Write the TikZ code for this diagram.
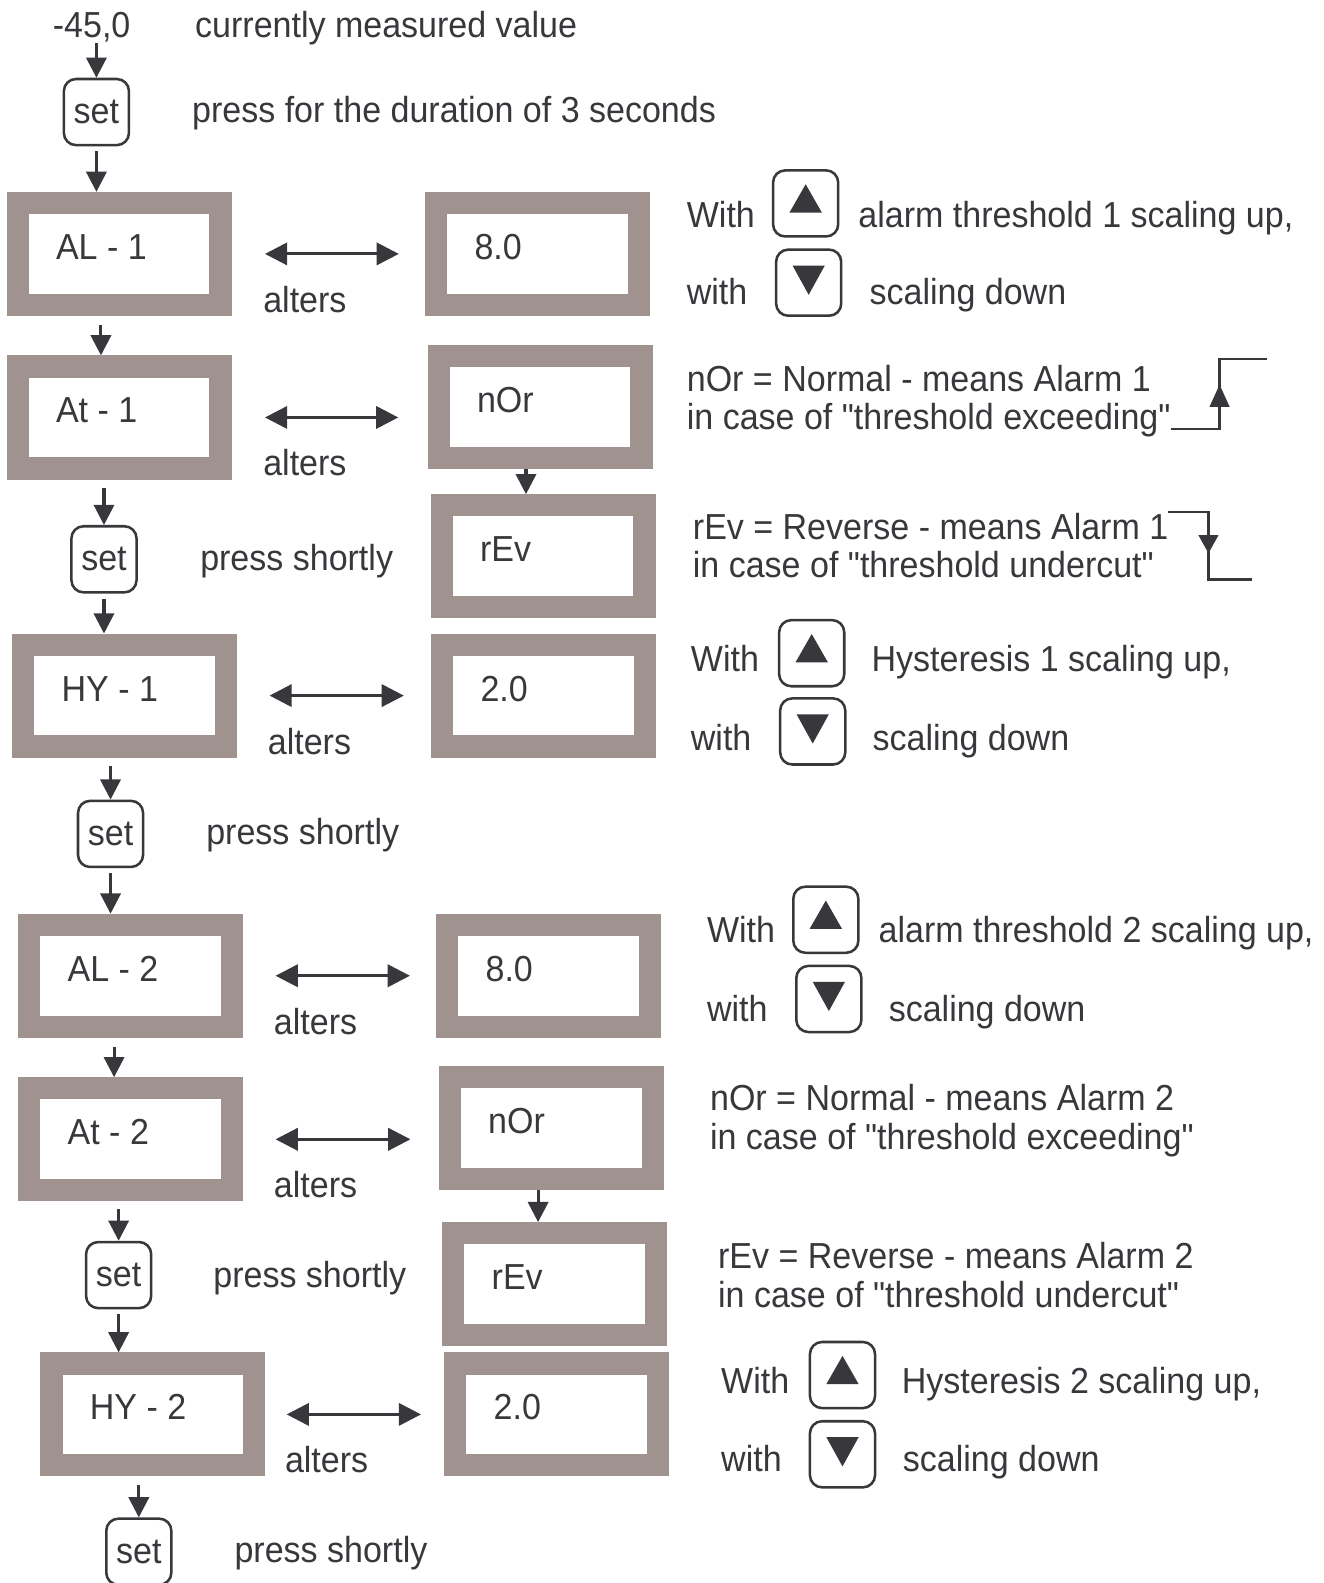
\documentclass[tikz,border=0pt]{standalone}
\usepackage{fontspec}
\setmainfont{Liberation Sans}[FakeStretch=0.94, Ligatures=TeXOff]
\usetikzlibrary{positioning,arrows.meta,calc}
\definecolor{dispgray}{RGB}{160,146,142}
\definecolor{inkgray}{RGB}{56,56,60}

\begin{document}
\begin{tikzpicture}[x=0.02cm, y=-0.02cm,
  every node/.style={font=\fontsize{20.4pt}{24pt}\selectfont, text=inkgray},
  disp/.style={draw=dispgray, line width=0.44cm, fill=white,
    minimum width=4.02cm, minimum height=2.02cm, text width=2.5cm,
    align=flush left, inner xsep=0.76cm, text height=0.516cm, text depth=0.3cm},
  btn/.style={draw=inkgray, line width=0.05cm, rounded corners=0.24cm,
    minimum width=1.29cm, minimum height=1.31cm, inner sep=0pt},
  txt/.style={anchor=west, inner sep=0pt, text height=0.516cm, text depth=0pt},
  arr/.style={-{Triangle[length=0.4cm,width=0.4cm]}, line width=0.06cm, draw=inkgray},
  dbl/.style={{Triangle[length=0.44cm,width=0.44cm]}-{Triangle[length=0.44cm,width=0.44cm]},
    line width=0.06cm, draw=inkgray},
  sym/.style={line width=0.05cm, draw=inkgray}
]
\path[use as bounding box, fill=white] (0,0) rectangle (1311,1568);

\node[txt] (reading) at (52,24) {-45,0};
\node[txt] (readtxt) at (193,24) {currently measured value};
\node[btn] (set1) at (95.5,111) {set};
\node[txt] (hold) at (190,108) {press for the duration of 3 seconds};

\node[disp] (al1) at (118,251.5) {AL - 1};
\node[disp] (al1v) at (532.5,251.5) {8.0};
\node[disp] (at1) at (118,413.5) {At - 1};
\node[disp] (nor1) at (535,403) {nOr};
\node[disp] (rev1) at (538,551) {rEv};
\node[btn] (set2) at (103,554) {set};
\node[txt] (short2) at (198,552) {press shortly};
\node[disp] (hy1) at (123.5,689) {HY - 1};
\node[disp] (hy1v) at (538.5,689) {2.0};
\node[btn] (set3) at (109.5,826) {set};
\node[txt] (short3) at (204,824) {press shortly};
\node[disp] (al2) at (129.5,966.5) {AL - 2};
\node[disp] (al2v) at (543.5,966.5) {8.0};
\node[disp] (at2) at (129.5,1128.5) {At - 2};
\node[disp] (nor2) at (546,1117) {nOr};
\node[disp] (rev2) at (549.5,1272) {rEv};
\node[btn] (set4) at (117.5,1263) {set};
\node[txt] (short4) at (211,1262) {press shortly};
\node[disp] (hy2) at (151.5,1401) {HY - 2};
\node[disp] (hy2v) at (551.5,1401) {2.0};
\node[btn] (set5) at (137.5,1537) {set};
\node[txt] (short5) at (232,1535) {press shortly};

\node[txt] (with1) at (680,212) {With};
\node[btn] (up1) at (798,201.5) {};
\node[txt] (up1txt) at (850,212) {alarm threshold 1 scaling up,};
\node[txt] (with1d) at (680,289) {with};
\node[btn] (dn1) at (801,280) {};
\node[txt] (dn1txt) at (861,289) {scaling down};

\node[txt] (nor1a) at (680,375) {nOr = Normal - means Alarm 1};
\node[txt] (nor1b) at (680,413) {in case of "threshold exceeding"};
\node[txt] (rev1a) at (686,521) {rEv = Reverse - means Alarm 1};
\node[txt] (rev1b) at (686,559) {in case of "threshold undercut"};

\node[txt] (with2) at (684,652) {With};
\node[btn] (up2) at (804,647) {};
\node[txt] (up2txt) at (863,652) {Hysteresis 1 scaling up,};
\node[txt] (with2d) at (684,730) {with};
\node[btn] (dn2) at (805,724.5) {};
\node[txt] (dn2txt) at (864,730) {scaling down};

\node[txt] (with3) at (700,921) {With};
\node[btn] (up3) at (818,911) {};
\node[txt] (up3txt) at (870,921) {alarm threshold 2 scaling up,};
\node[txt] (with3d) at (700,999) {with};
\node[btn] (dn3) at (821,989.5) {};
\node[txt] (dn3txt) at (880,999) {scaling down};

\node[txt] (nor2a) at (703,1087) {nOr = Normal - means Alarm 2};
\node[txt] (nor2b) at (703,1126) {in case of "threshold exceeding"};
\node[txt] (rev2a) at (711,1244) {rEv = Reverse - means Alarm 2};
\node[txt] (rev2b) at (711,1282) {in case of "threshold undercut"};

\node[txt] (with4) at (714,1367) {With};
\node[btn] (up4) at (834.5,1362) {};
\node[txt] (up4txt) at (893,1367) {Hysteresis 2 scaling up,};
\node[txt] (with4d) at (714,1445) {with};
\node[btn] (dn4) at (834.5,1440.5) {};
\node[txt] (dn4txt) at (894,1445) {scaling down};

\foreach \k in {up1,up2,up3,up4}
  \fill[inkgray] ($(\k)+(0,-19)$) -- ($(\k)+(16,9)$) -- ($(\k)+(-16,9)$) -- cycle;
\foreach \k in {dn1,dn2,dn3,dn4}
  \fill[inkgray] ($(\k)+(0,12)$) -- ($(\k)+(16,-17)$) -- ($(\k)+(-16,-17)$) -- cycle;

\coordinate (rise) at (1208,425);
\draw[sym] ($(rise)+(-48,0)$) -- (rise) -- ++(0,-69.5) -- ++(47,0);
\fill[inkgray] ($(rise)+(0,-44)$) -- ++(10,22) -- ++(-20,0) -- cycle;
\coordinate (fall) at (1197,507);
\draw[sym] ($(fall)+(-40,0)$) -- (fall) -- ++(0,67) -- ++(43,0);
\fill[inkgray] ($(fall)+(0,41)$) -- ++(10,-18) -- ++(-20,0) -- cycle;

\draw[arr, shorten <=0.1cm] (reading.south -| set1.north) -- (set1.north);
\foreach \a/\b in {set1/al1, set2/hy1, set3/al2, set4/hy2}
  \draw[arr, shorten <=0.1cm] (\a.south) -- (\a.south |- \b.north);
\foreach \a/\b in {at1/set2, hy1/set3, at2/set4, hy2/set5}
  \draw[arr, shorten <=0.16cm] (\a.south -| \b.north) -- (\b.north);
\foreach \a/\b/\d in {al1/at1/-18, al2/at2/-16.5}
  \draw[arr, shorten <=0.18cm] ($(\a.south)+(\d,0)$) -- ($(\b.north -| \a.south)+(\d,0)$);
\foreach \a/\b/\d in {nor1/rev1/-14, nor2/rev2/-13}
  \draw[arr] ($(\a.south)+(\d,0)$) -- ($(\b.north -| \a.south)+(\d,0)$);

\foreach \a/\b/\s/\e in {al1/al1v/33/26, at1/nor1/33/29, hy1/hy1v/32/27,
  al2/al2v/32/26, at2/nor2/32/28, hy2/hy2v/21/23}{
  \draw[dbl] ($(\a.east)+(\s,0)$) -- ($(\a.east -| \b.west)+(-\e,0)$);
  \node[txt] (alt-\a) at ($(\a.east)+(\s-2,45)$) {alters};
}
\end{tikzpicture}
\end{document}
